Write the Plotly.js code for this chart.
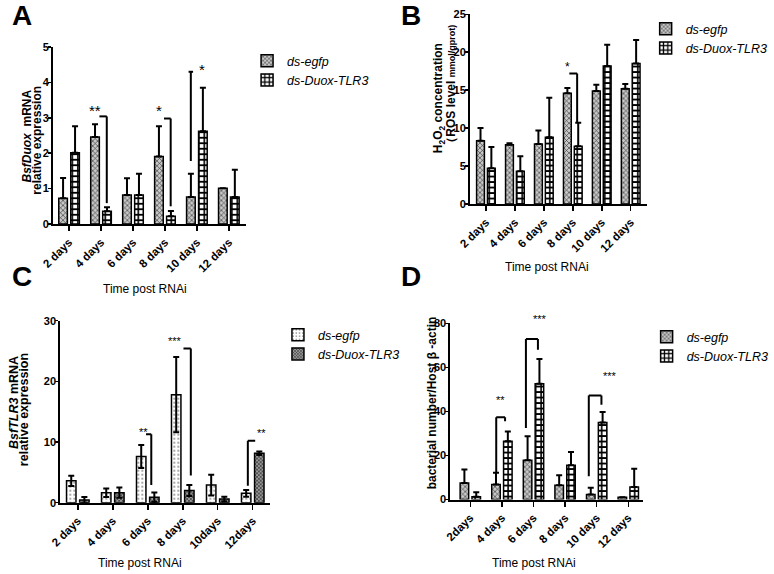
<!DOCTYPE html>
<html><head><meta charset="utf-8">
<script src="https://cdn.plot.ly/plotly-3.0.1.min.js"></script>
<style>html,body{margin:0;padding:0;background:#fff}</style>
</head><body><div id="chart" style="width:774px;height:574px"></div>
<script>
// ---- categories / tick labels ----
const catsA = ['2 days','4 days','6 days','8 days','10 days','12 days'];
const catsB = ['2 days','4 days','6 days','8 days','10 days','12 days'];
const catsC = ['2 days','4 days','6 days','8 days','10days','12days'];
const catsD = ['2days','4 days','6 days','8 days','10 days','12 days'];
const seriesNames = ['ds-egfp','ds-Duox-TLR3'];

// ---- A: BsfDuox mRNA relative expression (mean, SD) ----
const duoxEgfp   = [0.73, 2.46, 0.82, 1.91, 0.76, 1.01];
const duoxEgfpSd = [0.57, 0.36, 0.47, 0.85, 0.66, 0];
const duoxKd     = [2.01, 0.36, 0.82, 0.22, 2.62, 0.76];
const duoxKdSd   = [0.75, 0.11, 0.60, 0.15, 1.23, 0.77];

// ---- B: H2O2 concentration ----
const rosEgfp   = [8.35, 7.8, 7.9, 14.6, 14.9, 15.2];
const rosEgfpSd = [1.65, 0.2, 1.8, 0.7, 0.8, 0.6];
const rosKd     = [4.7, 4.3, 8.8, 7.6, 18.2, 18.5];
const rosKdSd   = [2.8, 2.0, 5.2, 3.1, 2.8, 3.1];

// ---- C: BsfTLR3 mRNA relative expression ----
const tlrEgfp   = [3.6, 1.65, 7.6, 17.8, 2.9, 1.55];
const tlrEgfpSd = [0.85, 0.7, 1.9, 6.2, 1.7, 0.55];
const tlrKd     = [0.45, 1.65, 0.9, 2.0, 0.6, 8.15];
const tlrKdSd   = [0.5, 0.85, 0.8, 0.9, 0.4, 0.3];

// ---- D: bacterial number / Host beta-actin ----
const bacEgfp   = [7.5, 6.8, 17.8, 6.5, 2.3, 1.0];
const bacEgfpSd = [6.1, 5.3, 10.9, 4.5, 3.0, 0];
const bacKd     = [1.2, 26.4, 52.5, 15.5, 35.0, 5.7];
const bacKdSd   = [2.1, 4.5, 11.3, 6.1, 4.7, 8.3];

// ---- y tick values ----
const ticksA = [0,1,2,3,4,5];
const ticksB = [0,5,10,15,20,25];
const ticksC = [0,10,20,30];
const ticksD = [0,20,40,60,80];

// ================= styles =================
const W = 774, H = 574;
const px = v => v / W;
const py = v => 1 - v / H;
const FONT = 'Liberation Sans, Arial, sans-serif';

const patEgfp = {color:'#b0b0b0', line:{color:'#000', width:1.5},
  pattern:{shape:'x', fgcolor:'#3a3a3a', bgcolor:'#c8c8c8', size:3.5, solidity:0.35}};
const patKd = {color:'#fff', line:{color:'#000', width:1.5},
  pattern:{shape:'+', fgcolor:'#000', bgcolor:'#fff', size:5.5, solidity:0.5}};
const patEgfpC = {color:'#fff', line:{color:'#000', width:1.5},
  pattern:{shape:'.', fgcolor:'#8a8a8a', bgcolor:'#fff', size:4, solidity:0.2}};
const patKdC = {color:'#888', line:{color:'#000', width:1.5},
  pattern:{shape:'x', fgcolor:'#222', bgcolor:'#9a9a9a', size:2.6, solidity:0.4}};

function upErr(sd){ return {type:'data', symmetric:false, array:sd, arrayminus:sd.map(()=>0), color:'#000', thickness:2, width:3}; }
function symErr(sd){ return {type:'data', symmetric:true, array:sd, color:'#000', thickness:2, width:3}; }

function bar(x, y, err, marker, name, ax, leg, group){
  return {type:'bar', x:x, y:y, name:name, marker:marker, error_y:err,
    xaxis:'x'+ax, yaxis:'y'+ax, legend:leg, offsetgroup:group, cliponaxis:false};
}

const data = [
  bar(catsA, duoxEgfp, upErr(duoxEgfpSd), patEgfp, seriesNames[0], '', 'legend', 'a'),
  bar(catsA, duoxKd, upErr(duoxKdSd), patKd, seriesNames[1], '', 'legend', 'b'),
  bar(catsB, rosEgfp, upErr(rosEgfpSd), patEgfp, seriesNames[0], '2', 'legend2', 'a'),
  bar(catsB, rosKd, upErr(rosKdSd), patKd, seriesNames[1], '2', 'legend2', 'b'),
  bar(catsC, tlrEgfp, symErr(tlrEgfpSd), patEgfpC, seriesNames[0], '3', 'legend3', 'a'),
  bar(catsC, tlrKd, symErr(tlrKdSd), patKdC, seriesNames[1], '3', 'legend3', 'b'),
  bar(catsD, bacEgfp, upErr(bacEgfpSd), patEgfp, seriesNames[0], '4', 'legend4', 'a'),
  bar(catsD, bacKd, upErr(bacKdSd), patKd, seriesNames[1], '4', 'legend4', 'b'),
];

function xax(d0, d1, anchor, range){
  return {domain:[px(d0), px(d1)], anchor:anchor, type:'category', range:range,
    showline:true, linecolor:'#000', linewidth:2, ticks:'outside', ticklen:5, tickwidth:1.5,
    tickcolor:'#000', tickangle:-45, showgrid:false, zeroline:false,
    tickfont:{family:FONT, size:11.5, color:'#000', weight:'bold'}, fixedrange:true};
}
function yax(top, bot, anchor, range, tv){
  return {domain:[py(bot), py(top)], anchor:anchor, range:range, tickvals:tv, ticktext:tv.map(String),
    showline:true, linecolor:'#000', linewidth:2, ticks:'outside', ticklen:3, tickwidth:1.5,
    tickcolor:'#000', showgrid:false, zeroline:false, ticklabelstandoff:-3,
    tickfont:{family:FONT, size:11, color:'#000', weight:'bold'}, fixedrange:true};
}

// significance brackets (polyline in data coords of each subplot)
const shapes = [];
function poly(ax, pts){
  for (let i=0;i<pts.length-1;i++){
    shapes.push({type:'line', xref:'x'+ax, yref:'y'+ax, x0:pts[i][0], y0:pts[i][1], x1:pts[i+1][0], y1:pts[i+1][1],
      line:{color:'#000', width:2}});
  }
}
poly('', [[0.95,3.04],[1.18,3.04],[1.18,0.59]]);
poly('', [[2.97,2.98],[3.18,2.98],[3.18,0.5]]);
poly('', [[3.81,1.78],[3.81,4.3]]);
poly('', [[3.74,4.3],[3.88,4.3]]);
poly('2', [[2.88,17.2],[3.15,17.2],[3.15,10.7]]);
poly('3', [[1.95,11.3],[2.1,11.3],[2.1,2.9]]);
poly('3', [[3.02,25.4],[3.23,25.4],[3.23,4.5]]);
poly('3', [[4.86,2.8],[4.86,10.2],[5.07,10.2]]);
poly('4', [[0.82,12.5],[0.82,37.4],[1.1,37.4],[1.1,35.5]]);
poly('4', [[1.76,32.5],[1.76,72.9],[2.14,72.9],[2.14,68]]);
poly('4', [[3.75,10.6],[3.75,47.2],[4.15,47.2],[4.15,43]]);

const ann = [];
function star(ax, x, y, t, size, shift){
  ann.push({xref:'x'+ax, yref:'y'+ax, x:x, y:y, text:t, showarrow:false, yshift:(shift||0)-3,
    font:{family:FONT, size:size, color:'#000'}, xanchor:'center', yanchor:'middle'});
}
star('', 0.82, 3.3, '**', 15);
star('', 2.8, 3.3, '*', 15);
star('', 4.15, 4.45, '*', 15);
star('2', 2.83, 18.4, '*', 12);
star('3', 1.88, 12.1, '**', 11);
star('3', 2.77, 27.1, '***', 11);
star('3', 5.25, 12.0, '**', 11);
star('4', 0.97, 46.5, '**', 11);
star('4', 2.22, 80, '***', 11, 7);   // sits just above the 80 limit
star('4', 4.41, 57.4, '***', 11);

function ptext(x, y, t, f, extra){
  ann.push(Object.assign({xref:'paper', yref:'paper', x:px(x), y:py(y), text:t, showarrow:false,
    xanchor:'center', yanchor:'middle', font:f}, extra||{}));
}
const letterF = {family:FONT, size:28, color:'#000', weight:'bold'};
ptext(23, 16, 'A', letterF);
ptext(426, 16, 'B', letterF);
ptext(23, 277, 'C', letterF);
ptext(426, 276, 'D', letterF);

const ytF = {family:FONT, size:12, color:'#000', weight:'bold'};
const rot = {textangle:-90};
ptext(27.5, 136, '<i>BsfDuox</i>  mRNA', ytF, rot);
ptext(38, 140, 'relative expression', ytF, rot);
ptext(455, 98, 'H<sub>2</sub>O<sub>2</sub> concentration', ytF, rot);
ptext(467, 87, '（ROS level <span style="font-size:9px">mmol/gprot)</span>', ytF, rot);
const ytC = {family:FONT, size:12.5, color:'#000', weight:'bold'};
ptext(14.5, 402, '<i>BsfTLR3</i> mRNA', ytC, rot);
ptext(25, 410, 'relative expression', ytC, rot);
ptext(448, 403, 'bacterial number/Host β -actin', {family:FONT, size:12, color:'#000', weight:'bold'}, rot);

const xtF = {family:FONT, size:12, color:'#000'};
ptext(150, 289, 'Time post RNAi', xtF);
ptext(567, 267, 'Time post RNAi', xtF);
ptext(145, 563, 'Time post RNAi', xtF);
ptext(553, 563, 'Time post RNAi', xtF);

function leg(x, y){
  return {x:px(x), y:py(y), xanchor:'left', yanchor:'top', bgcolor:'rgba(0,0,0,0)', borderwidth:0,
    font:{family:FONT, size:12.5, color:'#000', style:'italic'}, traceorder:'normal', itemclick:false};
}

const layout = {
  width:W, height:H, margin:{l:0,r:0,t:0,b:0}, paper_bgcolor:'#fff', plot_bgcolor:'rgba(0,0,0,0)',
  barmode:'group', bargap:0.25, bargroupgap:0.28, showlegend:true,
  xaxis: xax(55, 255, 'y', [-0.5, 5.54]),
  yaxis: yax(47, 224, 'x', [0, 5], ticksA),
  xaxis2: xax(487, 670, 'y2', [-0.55, 5.55]),
  yaxis2: yax(14.3, 204, 'x2', [0, 25], ticksB),
  xaxis3: xax(62.5, 280, 'y3', [-0.5, 5.5]),
  yaxis3: yax(320.7, 502.7, 'x3', [0, 30], ticksC),
  xaxis4: xax(466.7, 666.7, 'y4', [-0.63, 5.48]),
  yaxis4: yax(323.3, 499.5, 'x4', [0, 80], ticksD),
  legend: leg(256, 46),
  legend2: leg(669, 14),
  legend3: leg(288, 320),
  legend4: leg(670, 322),
  shapes: shapes,
  annotations: ann
};

Plotly.newPlot('chart', data, layout, {staticPlot:true, displayModeBar:false});
</script></body></html>
